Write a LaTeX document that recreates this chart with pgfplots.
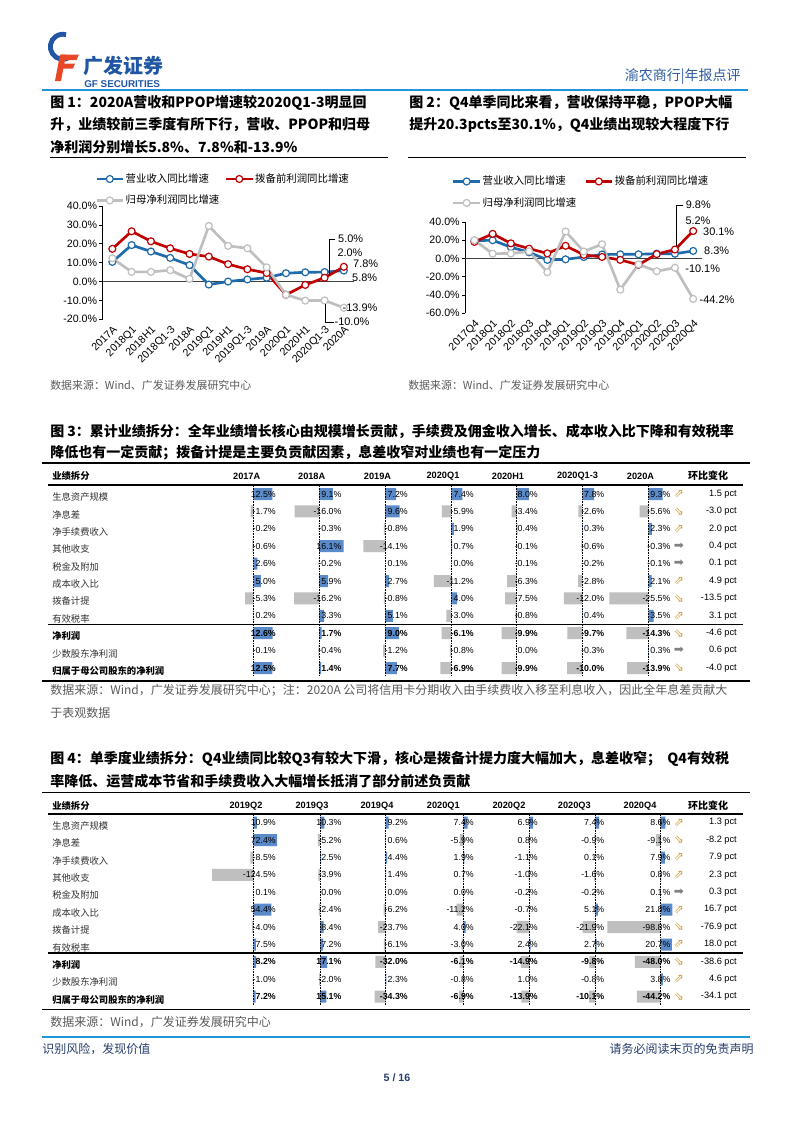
\documentclass[border=0pt]{standalone}
\usepackage{pgfplots}
\pgfplotsset{compat=1.18}
\usepackage{pgfplotstable}
\usepackage{fontspec}
\setmainfont{Liberation Sans}
\newfontfamily\cjk{Noto Sans CJK SC}
\newfontfamily\dejavu{DejaVu Sans}

\definecolor{lblue}{RGB}{31,106,170}
\definecolor{lred}{RGB}{192,0,0}
\definecolor{lgray}{RGB}{191,191,191}
\definecolor{barblue}{RGB}{91,138,201}
\definecolor{bargray}{RGB}{191,191,191}
\definecolor{hdrblue}{RGB}{30,150,215}
\definecolor{gfblue}{RGB}{32,86,164}
\definecolor{gfred}{RGB}{232,72,40}
\definecolor{navy}{RGB}{40,62,110}
\definecolor{srcgray}{RGB}{90,90,90}
\definecolor{labgray}{RGB}{50,50,50}
\definecolor{gold}{RGB}{212,160,64}

\newcommand\up{{\dejavu\fontsize{9}{9}\selectfont\color{gold}⇗}}
\newcommand\dn{{\dejavu\fontsize{9}{9}\selectfont\color{gold}⇘}}
\newcommand\rt{{\dejavu\fontsize{9}{9}\selectfont\color{gray}➡}}
\newcommand\lgfont{\cjk\fontsize{7.8}{9}\selectfont}

% ---- chart data ----
\pgfplotstableread{
i blue red gray
0 10.4 17.3 12.3
1 19.3 26.6 5.1
2 15.9 21.3 5.1
3 12.5 17.6 6.0
4 8.7 14.6 1.4
5 -1.6 13.2 29.4
6 0.0 9.2 18.9
7 1.1 6.5 17.6
8 2.0 4.5 7.5
9 4.4 -7.0 -7.0
10 4.9 -1.8 -10.1
11 5.0 2.0 -10.0
12 5.8 7.8 -13.9
}\cumgrowth

\pgfplotstableread{
i blue red gray
0 19.5 18.2 20.1
1 20.0 27.0 5.3
2 12.4 16.6 5.5
3 6.8 10.8 7.8
4 -1.5 5.6 -15.0
5 -0.9 13.9 29.6
6 1.6 4.0 7.7
7 4.4 1.7 15.6
8 4.6 -1.5 -34.1
9 4.6 -6.9 -6.5
10 5.3 4.8 -13.9
11 5.2 9.8 -10.1
12 8.3 30.1 -44.2
}\qgrowth

% ---- table data ----
\pgfplotstableread{
row a b c d e f g
1 12.5 9.1 7.2 7.4 8.0 7.8 9.3
2 -1.7 -16.0 9.6 -5.9 -3.4 -2.6 -5.6
3 -0.2 -0.3 -0.8 1.9 0.4 0.3 2.3
4 -0.6 16.1 -14.1 0.7 -0.1 -0.6 -0.3
5 2.6 -0.2 0.1 0.0 -0.1 -0.2 -0.1
6 5.0 5.9 2.7 -11.2 -6.3 -2.8 2.1
7 -5.3 -16.2 -0.8 4.0 -7.5 -12.0 -25.5
8 0.2 3.3 5.1 -3.0 -0.8 0.4 3.5
9 12.6 1.7 9.0 -6.1 -9.9 -9.7 -14.3
10 -0.1 -0.4 -1.2 -0.8 0.0 -0.3 0.3
11 12.5 1.4 7.7 -6.9 -9.9 -10.0 -13.9
}\cumtab

\pgfplotstableread{
row a b c d e f g
1 10.9 10.3 9.2 7.4 6.9 7.4 8.6
2 72.4 -5.2 0.6 -5.9 0.8 -0.9 -9.1
3 -8.5 2.5 4.4 1.9 -1.1 0.1 7.9
4 -124.5 -3.9 1.4 0.7 -1.0 -1.6 0.8
5 0.1 0.0 0.0 0.0 -0.2 -0.2 0.1
6 54.4 -2.4 -6.2 -11.2 -0.7 5.1 21.8
7 -4.0 8.4 -23.7 4.0 -22.1 -21.9 -98.8
8 7.5 7.2 -6.1 -3.0 2.4 2.7 20.7
9 8.2 17.1 -32.0 -6.1 -14.9 -9.8 -48.0
10 -1.0 -2.0 2.3 -0.8 1.0 -0.8 3.8
11 7.2 15.1 -34.3 -6.9 -13.9 -10.1 -44.2
}\qtab

\pgfplotsset{
  linechart/.style={
    scale only axis, anchor=south west, clip=false,
    xmin=-0.5, xmax=12.5,
    axis line style={draw=none},
    xtick={0,...,12}, xtick style={draw=none},
    ytick style={black, line width=0.5pt},
    tick align=outside, major tick length=2.5pt, ytick pos=left,
    yticklabel style={font=\fontsize{8}{9}\selectfont, inner sep=1.5pt},
    xticklabel style={font=\fontsize{8}{9}\selectfont, rotate=45, anchor=north east, inner sep=1pt},
    yticklabel={\pgfmathprintnumber[fixed,fixed zerofill,precision=1,assume math mode=true]{\tick}\%},
    legend columns=2, legend cell align=left,
    legend image code/.code={\draw[mark repeat=2,mark phase=2,##1] plot coordinates {(0cm,0cm) (0.35cm,0cm) (0.7cm,0cm)};},
  },
  ser/.style={#1, line width=2pt, mark=*, mark size=2.6pt, mark options={fill=white, draw=#1, line width=0.9pt}},
  cellbars/.style={anchor=north west, y=13.05pt, y dir=reverse,
    xmin=-130, xmax=100, ymin=0.5, ymax=11.5, hide axis, clip=false,
    /pgf/number format/.cd, fixed, fixed zerofill, precision=1, assume math mode=true},
  celltext/.style={draw=none, mark=none, point meta=explicit,
    nodes near coords={\pgfmathprintnumber{\pgfplotspointmeta}\%},
    every node near coord/.style={anchor=east, xshift=\tx pt, inner sep=0pt,
      font=\fontsize{6.6}{7}#1\selectfont, text=black}},
}

% data bars of one table: #1 table, #2 first row centre (px), #3 col/zero/scale/right
\newcommand\tablebars[3]{%
  \foreach \c/\z/\s/\r in {#3} {
    \pgfmathsetmacro\ux{\s*0.75}
    \pgfmathsetmacro\axpt{(\z-130*\s)*0.75}
    \pgfmathsetmacro\aypt{-(#2-8.7)*0.75}
    \pgfmathsetmacro\tx{(\r-\z)*0.75}
    \begin{axis}[cellbars, at={(\axpt pt,\aypt pt)}, x=\ux pt]
      \addplot[xbar, bar shift=0pt, bar width=9pt, fill=barblue, draw=none,
        restrict x to domain=0:1000] table[x=\c, y=row] {#1};
      \addplot[xbar, bar shift=0pt, bar width=9pt, fill=bargray, draw=none,
        restrict x to domain=-1000:0] table[x=\c, y=row] {#1};
      \draw[black, line width=0.6pt, dash pattern=on 1.2pt off 0.8pt]
        (axis cs:0,0.5) -- (axis cs:0,11.5);
      \addplot[celltext={}, restrict y to domain=0:8.5] table[x expr=0, y=row, meta=\c] {#1};
      \addplot[celltext=\bfseries, restrict y to domain=8.5:9.5] table[x expr=0, y=row, meta=\c] {#1};
      \addplot[celltext={}, restrict y to domain=9.5:10.5] table[x expr=0, y=row, meta=\c] {#1};
      \addplot[celltext=\bfseries, restrict y to domain=10.5:11.5] table[x expr=0, y=row, meta=\c] {#1};
    \end{axis}
  }}

\newcommand\rowlabels[1]{%
  \foreach \t [count=\i] in {生息资产规模,净息差,净手续费收入,其他收支,税金及附加,成本收入比,拨备计提,有效税率} {
    \node[anchor=west, inner sep=0pt, font=\cjk\fontsize{7}{8}\selectfont, text=labgray] at (52,{#1+3+17.4*(\i-1)}) {\t};}
  \node[anchor=west, inner sep=0pt, font=\cjk\bfseries\fontsize{7}{8}\selectfont] at (52,{#1+3+17.4*8}) {净利润};
  \node[anchor=west, inner sep=0pt, font=\cjk\fontsize{7}{8}\selectfont, text=labgray] at (52,{#1+3+17.4*9}) {少数股东净利润};
  \node[anchor=west, inner sep=0pt, font=\cjk\bfseries\fontsize{7}{8}\selectfont] at (52,{#1+3+17.4*10}) {归属于母公司股东的净利润};
}

\newcommand\tablehead[2]{%
  \node[anchor=west, inner sep=0pt, font=\cjk\bfseries\fontsize{7}{8}\selectfont] at (52,#1) {业绩拆分};
  \foreach \h/\x in {#2}
    \node[inner sep=0pt, font=\bfseries\fontsize{6.9}{8}\selectfont] at (\x,#1) {\h};
  \node[inner sep=0pt, font=\cjk\bfseries\fontsize{7.5}{8}\selectfont] at (708,#1) {环比变化};
}

\newcommand\changecol[2]{%
  \foreach \val/\ic [count=\i] in {#2} {
    \node[anchor=east, inner sep=0pt, font=\fontsize{6.9}{7}\selectfont] at (737,{#1+17.4*(\i-1)}) {\val\ pct};
    \node[inner sep=0pt] at (679,{#1+17.4*(\i-1)}) {\ic};
  }}

\begin{document}
\begin{tikzpicture}[x=0.75pt, y=-0.75pt]
\useasboundingbox[fill=white] (0,0) rectangle (793,1122);

% ---------- page header ----------
\draw[gfblue, line width=3.6pt] (70,57) arc[start angle=55, end angle=285, radius=12.5];
\fill[gfred] (61,54.5) -- (79,54.5) -- (76.5,60) -- (62,60) -- cycle;
\fill[gfred] (63,63.5) -- (75,63.5) -- (73,68.5) -- (62,68.5) -- cycle;
\fill[gfred] (60,54.5) -- (66,54.5) -- (61,81) -- (55,81) -- cycle;
\node[anchor=west, inner sep=0pt, text=gfblue, font=\cjk\bfseries\fontsize{15}{15}\selectfont] at (83,66) {广发证券};
\node[anchor=west, inner sep=0pt, text=gfblue, font=\bfseries\fontsize{7.4}{7.4}\selectfont] at (84,84.5) {GF SECURITIES};
\node[anchor=east, inner sep=0pt, text=gfblue!85!gray, font=\cjk\fontsize{10.5}{11}\selectfont] at (741,77) {渝农商行|年报点评};
\draw[hdrblue, line width=1.4pt] (42,90) -- (748,90);

% ---------- figure titles 1 and 2 ----------
\begin{scope}[every node/.style={anchor=west, inner sep=0pt, font=\cjk\bfseries\fontsize{10.5}{12}\selectfont}]
\node at (50,103.3) {图 1：2020A营收和PPOP增速较2020Q1-3明显回};
\node at (50,125) {升，业绩较前三季度有所下行，营收、PPOP和归母};
\node at (50,146.7) {净利润分别增长5.8\%、7.8\%和-13.9\%};
\node at (409,103.3) {图 2：Q4单季同比来看，营收保持平稳，PPOP大幅};
\node at (409,124.7) {提升20.3pcts至30.1\%，Q4业绩出现较大程度下行};
\end{scope}
\draw[line width=0.8pt] (50,157.3) -- (388,157.3);
\draw[line width=0.8pt] (408,157.3) -- (746,157.3);

% ---------- chart 1 ----------
\begin{axis}[linechart, at={(77.025pt,-239.475pt)}, width=188.1pt, height=85pt,
  ymin=-20, ymax=40, ytick={-20,-10,...,40},
  xticklabels={2017A,2018Q1,2018H1,2018Q1-3,2018A,2019Q1,2019H1,2019Q1-3,2019A,2020Q1,2020H1,2020Q1-3,2020A},
  legend style={draw=none, fill=none, at={(-0.031,1.30)}, anchor=north west,
    font=\lgfont, inner sep=0pt, row sep=6pt,
    nodes={inner sep=1pt, font=\lgfont}, /tikz/every even column/.append style={column sep=3pt}}]
\draw[black, line width=0.6pt] (axis cs:-0.5,-20) -- (axis cs:-0.5,40);
\draw[black!75, line width=0.6pt] (axis cs:-0.5,0) -- (axis cs:12.5,0);
\addplot[ser=lblue] table[x=i, y=blue] {\cumgrowth};
\addlegendentry{营业收入同比增速}
\addplot[ser=lred] table[x=i, y=red] {\cumgrowth};
\addlegendentry{拨备前利润同比增速}
\addplot[ser=lgray] table[x=i, y=gray] {\cumgrowth};
\addlegendentry{归母净利润同比增速}
\end{axis}
\begin{scope}[every node/.style={inner sep=0pt, font=\fontsize{8.2}{9}\selectfont}]
\node at (350.7,239) {5.0\%};
\node at (350,253) {2.0\%};
\node at (365.7,263.7) {7.8\%};
\node at (364.7,278) {5.8\%};
\node at (360,308) {-13.9\%};
\node at (352,322) {-10.0\%};
\node at (698.3,205) {9.8\%};
\node at (698,220.7) {5.2\%};
\node at (718.7,231.3) {30.1\%};
\node at (716.7,251) {8.3\%};
\node at (702.7,268.3) {-10.1\%};
\node at (717,299.3) {-44.2\%};
\end{scope}
\draw[black, line width=0.6pt] (335,239) -- (329.3,239) -- (329.3,276);
\draw[black, line width=0.6pt] (325,304) -- (325,322) -- (334,322);
\draw[black, line width=0.6pt] (683,205.7) -- (676,205.7) -- (676,247);

% ---------- chart 2 ----------
\begin{axis}[linechart, at={(348.975pt,-234.975pt)}, width=177.75pt, height=68.5pt,
  ymin=-60, ymax=40, ytick={-60,-40,...,40},
  xticklabels={2017Q4,2018Q1,2018Q2,2018Q3,2018Q4,2019Q1,2019Q2,2019Q3,2019Q4,2020Q1,2020Q2,2020Q3,2020Q4},
  legend style={draw=none, fill=none, at={(-0.057,1.52)}, anchor=north west,
    font=\lgfont, inner sep=0pt, row sep=6pt,
    nodes={inner sep=1pt, font=\lgfont}, /tikz/every even column/.append style={column sep=5pt}}]
\draw[black, line width=0.6pt] (axis cs:-0.5,-60) -- (axis cs:-0.5,40);
\draw[black!75, line width=0.6pt] (axis cs:-0.5,0) -- (axis cs:12.5,0);
\addplot[ser=lblue] table[x=i, y=blue] {\qgrowth};
\addlegendentry{营业收入同比增速}
\addplot[ser=lred] table[x=i, y=red] {\qgrowth};
\addlegendentry{拨备前利润同比增速}
\addplot[ser=lgray] table[x=i, y=gray] {\qgrowth};
\addlegendentry{归母净利润同比增速}
\end{axis}

% sources
\begin{scope}[every node/.style={anchor=west, inner sep=0pt, text=srcgray, font=\cjk\fontsize{8.2}{9}\selectfont}]
\node at (50,385) {数据来源：Wind、广发证券发展研究中心};
\node at (408,385) {数据来源：Wind、广发证券发展研究中心};
\end{scope}

% ---------- figure 3 table ----------
\begin{scope}[every node/.style={anchor=west, inner sep=0pt, font=\cjk\bfseries\fontsize{10.5}{12}\selectfont}]
\node at (50,431) {图 3：累计业绩拆分：全年业绩增长核心由规模增长贡献，手续费及佣金收入增长、成本收入比下降和有效税率};
\node at (50,453) {降低也有一定贡献；拨备计提是主要负贡献因素，息差收窄对业绩也有一定压力};
\end{scope}
\draw[line width=0.8pt] (42,463) -- (750,463);
\tablehead{476}{2017A/246.7,2018A/311.7,2019A/377.5,2020Q1/443,2020H1/508,2020Q1-3/577.5,2020A/640.5}
\draw[line width=1.3pt] (48,485) -- (743,485);
\tablebars{\cumtab}{494}{a/253.3/1.53/276,b/319/1.53/341.7,c/385/1.53/408,d/451/1.53/474,e/516.7/1.53/538,f/582.3/1.53/604.5,g/648.3/1.53/670.7}
\rowlabels{494}
\draw[line width=1pt] (48,624.5) -- (743,624.5);
\draw[line width=0.8pt] (42,681) -- (750,681);
\changecol{494}{1.5/\up,-3.0/\dn,2.0/\up,0.4/\rt,0.1/\rt,4.9/\up,-13.5/\dn,3.1/\up,-4.6/\dn,0.6/\rt,-4.0/\dn}
\begin{scope}[every node/.style={anchor=west, inner sep=0pt, text=srcgray, font=\cjk\fontsize{9}{10}\selectfont}]
\node at (50,690) {数据来源：Wind，广发证券发展研究中心；注：2020A 公司将信用卡分期收入由手续费收入移至利息收入，因此全年息差贡献大};
\node at (50,713) {于表观数据};
\end{scope}

% ---------- figure 4 table ----------
\begin{scope}[every node/.style={anchor=west, inner sep=0pt, font=\cjk\bfseries\fontsize{10.5}{12}\selectfont}]
\node at (50,759.3) {图 4：单季度业绩拆分：Q4业绩同比较Q3有较大下滑，核心是拨备计提力度大幅加大，息差收窄；\ \ Q4有效税};
\node at (50,780.7) {率降低、运营成本节省和手续费收入大幅增长抵消了部分前述负贡献};
\end{scope}
\draw[line width=0.8pt] (42,792.3) -- (750,792.3);
\tablehead{806}{2019Q2/246,2019Q3/312,2019Q4/377,2020Q1/443.3,2020Q2/509,2020Q3/574.3,2020Q4/640}
\draw[line width=1.3pt] (48,814.3) -- (743,814.3);
\tablebars{\qtab}{822.7}{a/253.3/0.33/276,b/320/0.42/341.7,c/385.7/0.32/408,d/463.3/0.6/474,e/529.3/0.57/538,f/595/0.57/604.5,g/660.7/0.54/670.7}
\rowlabels{822.7}
\draw[line width=1pt] (48,953) -- (743,953);
\draw[line width=0.8pt] (42,1009.3) -- (750,1009.3);
\changecol{822.7}{1.3/\up,-8.2/\dn,7.9/\up,2.3/\up,0.3/\rt,16.7/\up,-76.9/\dn,18.0/\up,-38.6/\dn,4.6/\up,-34.1/\dn}
\node[anchor=west, inner sep=0pt, text=srcgray, font=\cjk\fontsize{9}{10}\selectfont] at (50,1022) {数据来源：Wind，广发证券发展研究中心};

% ---------- footer ----------
\draw[hdrblue, line width=1.2pt] (42,1037) -- (750,1037);
\node[anchor=west, inner sep=0pt, text=navy, font=\cjk\fontsize{9}{10}\selectfont] at (42,1049) {识别风险，发现价值};
\node[anchor=east, inner sep=0pt, text=navy, font=\cjk\fontsize{9}{10}\selectfont] at (754,1049) {请务必阅读末页的免责声明};
\node[inner sep=0pt, text=navy, font=\bfseries\fontsize{8}{9}\selectfont] at (397,1078) {5 / 16};
\end{tikzpicture}
\end{document}
